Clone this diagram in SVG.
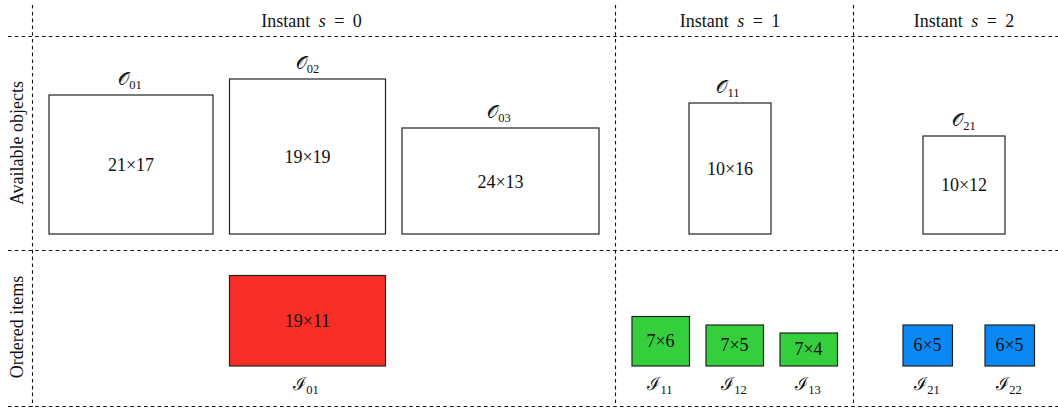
<svg xmlns="http://www.w3.org/2000/svg" width="1058" height="410" viewBox="0 0 1058 410">
<style>
text,tspan{font-family:"Liberation Serif",serif}
text{font-size:18px;fill:#111;text-anchor:middle}
.it{font-style:italic}
.sub{font-size:12.5px}
.hd{word-spacing:4px}
.grid line{stroke:#111;stroke-width:1.1;stroke-dasharray:3.6 3.2;fill:none}
.box{fill:#fff;stroke:#222;stroke-width:1.2}
.red{fill:#f72d27;stroke:#222;stroke-width:1.2}
.green{fill:#35cf3e;stroke:#222;stroke-width:1.2}
.blue{fill:#0c88f5;stroke:#222;stroke-width:1.2}
</style>
<rect width="1058" height="410" fill="#fff"/>
<g id="grid" class="grid">
<line x1="32.5" y1="5" x2="32.5" y2="407"/>
<line x1="615.5" y1="5" x2="615.5" y2="407"/>
<line x1="853.5" y1="5" x2="853.5" y2="407"/>
<line x1="8" y1="36.5" x2="1058" y2="36.5"/>
<line x1="8" y1="250.5" x2="1058" y2="250.5"/>
<line x1="8" y1="406.5" x2="1058" y2="406.5"/>
</g>
<g id="headers">
<text class="hd" x="311.5" y="27">Instant <tspan class="it">s</tspan> = 0</text>
<text class="hd" x="730" y="27">Instant <tspan class="it">s</tspan> = 1</text>
<text class="hd" x="964" y="27">Instant <tspan class="it">s</tspan> = 2</text>
<text transform="translate(23,143) rotate(-90)">Available objects</text>
<text transform="translate(23,327) rotate(-90)">Ordered items</text>
</g>
<g id="O01">
<rect class="box" x="49" y="95" width="164" height="139"/>
<text x="131" y="171">21×17</text>
<text x="130" y="85">𝒪<tspan class="sub" dy="4">01</tspan></text>
</g>
<g id="O02">
<rect class="box" x="229.5" y="79" width="156" height="155"/>
<text x="307.5" y="163">19×19</text>
<text x="307.5" y="69">𝒪<tspan class="sub" dy="4">02</tspan></text>
</g>
<g id="O03">
<rect class="box" x="402" y="128" width="197" height="106"/>
<text x="500.5" y="188">24×13</text>
<text x="499" y="118">𝒪<tspan class="sub" dy="4">03</tspan></text>
</g>
<g id="O11">
<rect class="box" x="689" y="103" width="82" height="131"/>
<text x="730" y="175">10×16</text>
<text x="728" y="93">𝒪<tspan class="sub" dy="4">11</tspan></text>
</g>
<g id="O21">
<rect class="box" x="923" y="136" width="82" height="98"/>
<text x="964" y="190.5">10×12</text>
<text x="964" y="126">𝒪<tspan class="sub" dy="4">21</tspan></text>
</g>
<g id="I01">
<rect class="red" x="229.5" y="275.5" width="156" height="90.5"/>
<text x="307.5" y="327">19×11</text>
<text x="306" y="390">ℐ<tspan class="sub" dy="4">01</tspan></text>
</g>
<g id="I11">
<rect class="green" x="632" y="316.5" width="57.5" height="49.5"/>
<text x="660.5" y="347">7×6</text>
<text x="660" y="390">ℐ<tspan class="sub" dy="4">11</tspan></text>
</g>
<g id="I12">
<rect class="green" x="706" y="325" width="57.5" height="41"/>
<text x="734.5" y="351">7×5</text>
<text x="734" y="390">ℐ<tspan class="sub" dy="4">12</tspan></text>
</g>
<g id="I13">
<rect class="green" x="780" y="333" width="57.5" height="33"/>
<text x="808.5" y="355">7×4</text>
<text x="808" y="390">ℐ<tspan class="sub" dy="4">13</tspan></text>
</g>
<g id="I21">
<rect class="blue" x="903" y="325" width="49.5" height="41"/>
<text x="927.5" y="351">6×5</text>
<text x="927" y="390">ℐ<tspan class="sub" dy="4">21</tspan></text>
</g>
<g id="I22">
<rect class="blue" x="985" y="325" width="49.5" height="41"/>
<text x="1009.5" y="351">6×5</text>
<text x="1009" y="390">ℐ<tspan class="sub" dy="4">22</tspan></text>
</g>
</svg>
